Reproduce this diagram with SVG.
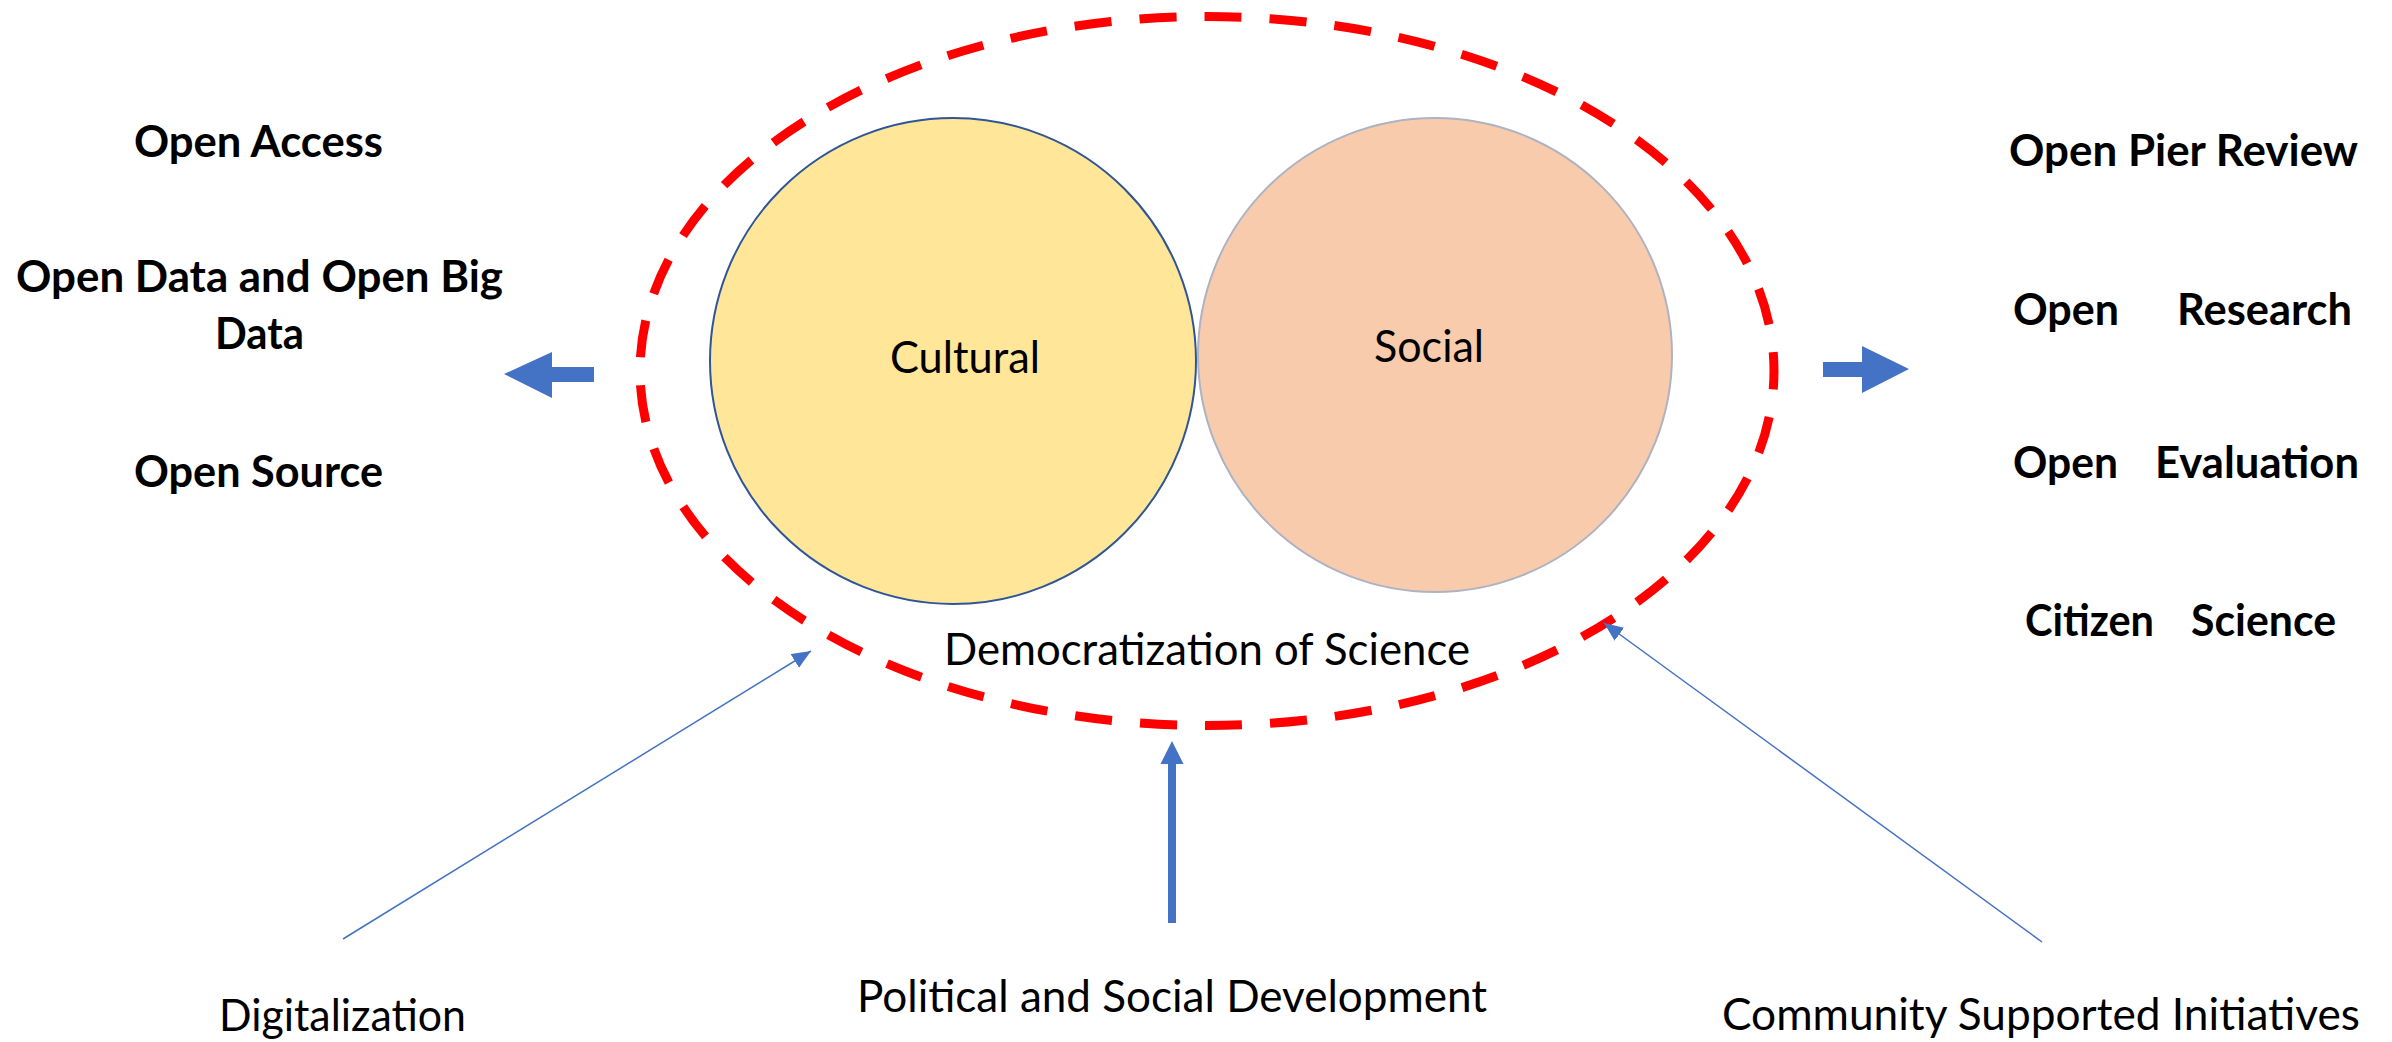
<svg xmlns="http://www.w3.org/2000/svg" width="2392" height="1042" viewBox="0 0 2392 1042">
<style>
  .lbl { font-family: Lato, "Open Sans", "Liberation Sans", sans-serif; font-size: 44px; fill: #000; }
  .bold { font-weight: 700; }
  .blue { fill: #4472C4; }
  .thin { stroke: #4472C4; stroke-width: 1.5; fill: none; }
  .thick { stroke: #4472C4; stroke-width: 8; fill: none; }
</style>
<defs>
  <marker id="headThin" markerUnits="userSpaceOnUse" markerWidth="20" markerHeight="18" refX="19" refY="8" orient="auto">
    <path d="M0,0 L19,8 L0,16 Z" fill="#4472C4"/>
  </marker>
</defs>
<rect width="2392" height="1042" fill="#fff"/>

<g id="democratization">
  <path d="M 1207 725.5 A 567 354.5 0 1 1 1207 16.5 A 567 354.5 0 1 1 1207 725.5 Z" pathLength="2925" fill="none" stroke="#FF0000" stroke-width="9" stroke-dasharray="37 28" stroke-dashoffset="35"/>
  <text class="lbl" x="944" y="665" textLength="526" lengthAdjust="spacingAndGlyphs">Democratization of Science</text>
</g>

<g id="cultural">
  <circle cx="953" cy="361" r="243" fill="#FFE699" stroke="#2F5597" stroke-width="2"/>
  <text class="lbl" x="890" y="373" textLength="150" lengthAdjust="spacingAndGlyphs">Cultural</text>
</g>

<g id="social">
  <circle cx="1435" cy="355" r="237" fill="#F8CBAD" stroke="#ADB3C2" stroke-width="2"/>
  <text class="lbl" x="1374" y="362" textLength="110" lengthAdjust="spacingAndGlyphs">Social</text>
</g>

<g id="left-list">
  <text class="lbl bold" x="134" y="157" textLength="249" lengthAdjust="spacingAndGlyphs">Open Access</text>
  <text class="lbl bold" x="16" y="292" textLength="487" lengthAdjust="spacingAndGlyphs">Open Data and Open Big</text>
  <text class="lbl bold" x="215" y="349" textLength="89" lengthAdjust="spacingAndGlyphs">Data</text>
  <text class="lbl bold" x="134" y="487" textLength="249" lengthAdjust="spacingAndGlyphs">Open Source</text>
</g>

<g id="right-list">
  <text class="lbl bold" x="2009" y="166" textLength="349" lengthAdjust="spacingAndGlyphs">Open Pier Review</text>
  <text class="lbl bold" x="2013" y="325" textLength="106" lengthAdjust="spacingAndGlyphs">Open</text>
  <text class="lbl bold" x="2177" y="325" textLength="175" lengthAdjust="spacingAndGlyphs">Research</text>
  <text class="lbl bold" x="2013" y="478" textLength="105" lengthAdjust="spacingAndGlyphs">Open</text>
  <text class="lbl bold" x="2155" y="478" textLength="204" lengthAdjust="spacingAndGlyphs">Evaluation</text>
  <text class="lbl bold" x="2025" y="636" textLength="129" lengthAdjust="spacingAndGlyphs">Citizen</text>
  <text class="lbl bold" x="2191" y="636" textLength="145" lengthAdjust="spacingAndGlyphs">Science</text>
</g>

<g id="digitalization">
  <text class="lbl" x="219" y="1031" textLength="247" lengthAdjust="spacingAndGlyphs">Digitalization</text>
</g>
<g id="political">
  <text class="lbl" x="857" y="1012" textLength="630" lengthAdjust="spacingAndGlyphs">Political and Social Development</text>
</g>
<g id="community">
  <text class="lbl" x="1722" y="1030" textLength="638" lengthAdjust="spacingAndGlyphs">Community Supported Initiatives</text>
</g>

<g id="connectors">
  <polygon class="blue" points="504,374 552,352 552,367 594,367 594,382 552,382 552,398"/>
  <polygon class="blue" points="1823,362 1862,362 1862,346 1909,369 1862,393 1862,377 1823,377"/>
  <line class="thick" x1="1172" y1="923" x2="1172" y2="762"/>
  <polygon class="blue" points="1160.5,764 1183.5,764 1172,741"/>
  <line class="thin" x1="343" y1="939" x2="811" y2="651" marker-end="url(#headThin)"/>
  <line class="thin" x1="2042" y1="942" x2="1604" y2="623" marker-end="url(#headThin)"/>
</g>
</svg>
